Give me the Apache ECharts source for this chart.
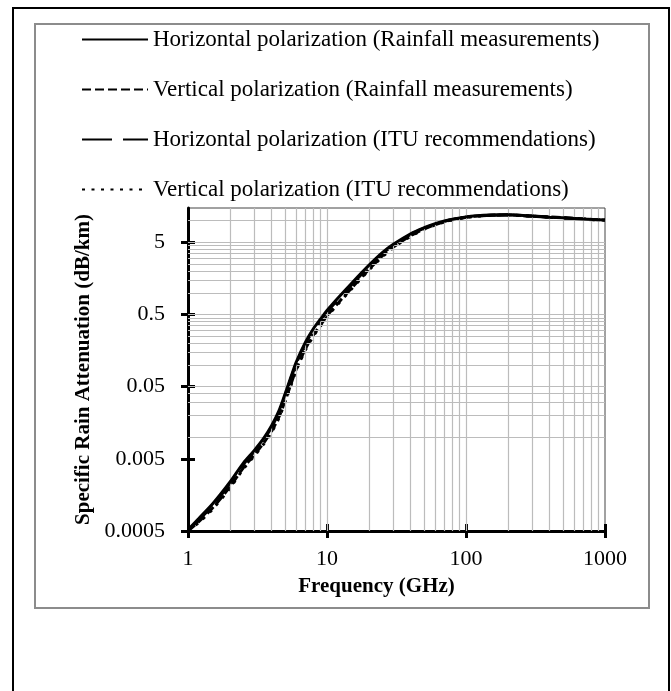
<!DOCTYPE html>
<html><head><meta charset="utf-8">
<script src="https://cdn.jsdelivr.net/npm/echarts@6/dist/echarts.min.js"></script>
<style>html,body{margin:0;padding:0;background:#fff}#c{width:671px;height:691px}</style>
</head><body><div id="c"></div>
<script>
// ---- data ----
const frequencies = [1, 1.2, 1.5, 2, 2.5, 3, 3.5, 4, 4.5, 5, 5.5, 6, 7, 8, 9, 10, 12, 15, 20, 25, 30, 40, 50, 60, 70, 80, 100, 120, 150, 200, 300, 400, 500, 700, 1000];
const hRain = [0.00052, 0.00075, 0.00118, 0.00237, 0.00437, 0.00656, 0.0096, 0.0145, 0.023, 0.040, 0.068, 0.109, 0.207, 0.32, 0.435, 0.57, 0.85, 1.35, 2.4, 3.6, 4.7, 6.6, 8.0, 9.1, 9.9, 10.5, 11.3, 11.7, 11.95, 12.05, 11.6, 11.2, 10.95, 10.55, 10.2];
const vRain = [0.00050, 0.00068, 0.00104, 0.00204, 0.00376, 0.0057, 0.0083, 0.0122, 0.0189, 0.032, 0.054, 0.087, 0.168, 0.262, 0.36, 0.48, 0.72, 1.16, 2.11, 3.24, 4.32, 6.2, 7.7, 8.8, 9.7, 10.35, 11.2, 11.6, 11.9, 12.05, 11.6, 11.25, 11.0, 10.6, 10.2];
const hItu = [0.00051, 0.00072, 0.00112, 0.00225, 0.00415, 0.0063, 0.0092, 0.0138, 0.0218, 0.038, 0.065, 0.104, 0.198, 0.305, 0.415, 0.545, 0.81, 1.29, 2.3, 3.46, 4.55, 6.45, 7.85, 9.0, 9.8, 10.4, 11.2, 11.6, 11.9, 12.0, 11.55, 11.15, 10.9, 10.5, 10.15];
const vItu = [0.00050, 0.00066, 0.00100, 0.00196, 0.00362, 0.0055, 0.0080, 0.0118, 0.0182, 0.031, 0.052, 0.084, 0.162, 0.253, 0.348, 0.465, 0.70, 1.13, 2.06, 3.16, 4.22, 6.1, 7.6, 8.7, 9.6, 10.25, 11.1, 11.5, 11.85, 12.0, 11.55, 11.2, 10.95, 10.55, 10.15];
const seriesNames = [
  'Horizontal polarization (Rainfall measurements)',
  'Vertical polarization (Rainfall measurements)',
  'Horizontal polarization (ITU recommendations)',
  'Vertical polarization (ITU recommendations)'
];
const xTickValues = [1, 10, 100, 1000];
const yTickValues = [0.0005, 0.005, 0.05, 0.5, 5];
const xMin = 1, xMax = 1000, yMin = 0.0005, yMax = 15;

// ---- gridline values (minor multiples within each decade) ----
const xGrid = [];
for (let d = 1; d < xMax; d *= 10) for (let k = 1; k <= 9; k++) { const v = +(d * k).toPrecision(6); if (v > xMin && v < xMax) xGrid.push(v); }
const yGrid = [];
for (let d = yMin; d < yMax; d *= 10) for (let k = 1; k <= 9; k++) { const v = +(d * k).toPrecision(6); if (v > yMin && v < yMax) yGrid.push(v); }

const FONT = 'Liberation Serif';
const styles = [
  { type: 'solid', width: 3 },
  { type: [9, 4], width: 3 },
  { type: [30, 11], width: 3 },
  { type: [3, 6.5], width: 3 }
];
const dataSets = [hRain, vRain, hItu, vItu];

const series = dataSets.map((arr, i) => ({
  name: seriesNames[i],
  type: 'line',
  xAxisIndex: 0, yAxisIndex: 0,
  data: frequencies.map((f, j) => [f, arr[j]]),
  symbol: 'none',
  smooth: 0.3,
  lineStyle: { color: '#000', width: styles[i].width, type: styles[i].type, cap: 'butt' },
  itemStyle: { color: '#000' },
  z: 5 - i,
  animation: false
}));
series.push({
  type: 'line', xAxisIndex: 0, yAxisIndex: 0,
  data: [[xMin, yMin]], symbol: 'none', lineStyle: { opacity: 0 }, z: 1, silent: true,
  markLine: {
    silent: true, symbol: ['none', 'none'], label: { show: false }, animation: false,
    lineStyle: { color: '#bcbcbc', width: 1.2, type: 'solid' },
    emphasis: { disabled: true },
    data: xGrid.map(v => ({ xAxis: v })).concat(yGrid.map(v => ({ yAxis: v })))
  }
});

const tickStyle = { color: '#000', width: 3 };
const chart = echarts.init(document.getElementById('c'), null, { renderer: 'canvas' });
chart.setOption({
  animation: false,
  backgroundColor: '#fff',
  graphic: [
    { type: 'rect', shape: { x: 13, y: 8, width: 656, height: 700 }, style: { fill: 'none', stroke: '#000', lineWidth: 2 }, silent: true, z: -10 },
    { type: 'rect', shape: { x: 35, y: 24, width: 614, height: 584 }, style: { fill: 'none', stroke: '#8c8c8c', lineWidth: 2 }, silent: true, z: -10 }
  ],
  legend: {
    data: seriesNames, orient: 'vertical', left: 81, top: 28, padding: 0,
    itemWidth: 66, itemHeight: 14, itemGap: 27,
    itemStyle: { opacity: 0 },
    textStyle: { fontFamily: FONT, fontSize: 23, color: '#000', lineHeight: 23 },
    selectedMode: false
  },
  grid: { left: 188, top: 208, right: 66, bottom: 160, show: true, borderColor: '#444', borderWidth: 1, backgroundColor: 'transparent' },
  xAxis: [
    { type: 'log', logBase: 10, min: xMin, max: xMax, position: 'bottom',
      name: 'Frequency (GHz)', nameLocation: 'middle', nameGap: 45,
      nameTextStyle: { fontFamily: FONT, fontSize: 21, fontWeight: 'bold', color: '#000', padding: [0, 40, 0, 0] },
      axisLine: { lineStyle: { color: '#000', width: 3 } },
      axisTick: { show: true, inside: false, length: 7, lineStyle: tickStyle, customValues: xTickValues },
      axisLabel: { fontFamily: FONT, fontSize: 22, color: '#000', margin: 17, customValues: xTickValues, formatter: v => String(v) },
      splitLine: { show: false }, minorTick: { show: false } },
    { type: 'log', logBase: 10, min: xMin, max: xMax, position: 'bottom',
      axisLine: { show: false },
      axisTick: { show: true, inside: true, length: 7, lineStyle: tickStyle, customValues: xTickValues },
      axisLabel: { show: false }, splitLine: { show: false } }
  ],
  yAxis: [
    { type: 'log', logBase: 10, min: yMin, max: yMax, position: 'left',
      name: 'Specific Rain Attenuation (dB/km)', nameLocation: 'middle', nameGap: 91,
      nameTextStyle: { fontFamily: FONT, fontSize: 21, fontWeight: 'bold', color: '#000' },
      axisLine: { lineStyle: { color: '#000', width: 3 } },
      axisTick: { show: true, inside: false, length: 7, lineStyle: tickStyle, customValues: yTickValues },
      axisLabel: { fontFamily: FONT, fontSize: 22, color: '#000', margin: 23, customValues: yTickValues, formatter: v => String(v) },
      splitLine: { show: false }, minorTick: { show: false } },
    { type: 'log', logBase: 10, min: yMin, max: yMax, position: 'left',
      axisLine: { show: false },
      axisTick: { show: true, inside: true, length: 7, lineStyle: tickStyle, customValues: yTickValues },
      axisLabel: { show: false }, splitLine: { show: false } }
  ],
  series: series
});
</script>
</body></html>
